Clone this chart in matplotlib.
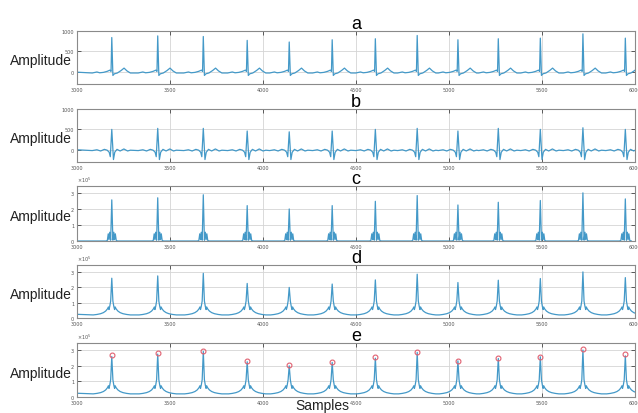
import numpy as np
import matplotlib
matplotlib.use("Agg")
import matplotlib.pyplot as plt

# ---------------- data ----------------
r_pos = [3187, 3434, 3679, 3915, 4141, 4372, 4604, 4829, 5048, 5265, 5491, 5720, 5948]

amp_a = [840, 880, 865, 770, 730, 785, 810, 890, 785, 810, 825, 930, 825]
amp_b = [500, 525, 525, 460, 440, 460, 500, 525, 460, 525, 500, 540, 500]
amp_c = [2.58, 2.71, 2.90, 2.22, 2.01, 2.22, 2.49, 2.85, 2.26, 2.43, 2.54, 3.02, 2.64]
amp_d = [2.59, 2.74, 2.91, 2.25, 1.99, 2.21, 2.48, 2.85, 2.31, 2.46, 2.57, 3.00, 2.63]
peak_e = [2.68, 2.78, 2.96, 2.27, 2.06, 2.25, 2.55, 2.89, 2.31, 2.46, 2.55, 3.06, 2.72]

# beat shapes around each R peak (offset in samples, value); NaN = R-peak amplitude
shape_a_dt = [-105, -95, -80, -65, -45, -25, -10, -4, 0, 6, 14, 30, 50, 66, 82, 100]
shape_a_v = [-30, -20, -5, -25, -15, 10, 40, 10, np.nan, -90, -50, -30, 30, 90, 20, -30]
shape_b_dt = [-105, -80, -60, -40, -25, -14, -8, 0, 9, 16, 28, 45, 65, 85, 100]
shape_b_v = [-20, 0, -30, 10, -10, -60, -170, np.nan, -240, -60, 10, -30, 20, -30, -10]
shape_c_dt = [-32, -24, -19, -15, -11, -6, 0, 6, 11, 15, 19, 24, 32]
shape_c_v = [0.0, 0.03, 0.45, 0.08, 0.55, 0.05, np.nan, 0.05, 0.55, 0.08, 0.45, 0.03, 0.0]
shape_d_dt = [-100, -80, -60, -45, -33, -24, -18, -15, -11, -6, 0, 6, 11, 15, 18, 24, 33, 45, 60, 80, 100]
shape_d_v = [0.2, 0.23, 0.28, 0.35, 0.45, 0.58, 0.72, 0.55, 0.75, 1.1, np.nan,
             1.1, 0.75, 0.55, 0.72, 0.58, 0.45, 0.35, 0.28, 0.23, 0.2]

start_vals = {"a": -10, "b": 0, "c": 0.0, "d": 0.24}
x_ticks = [3000, 3500, 4000, 4500, 5000, 5500, 6000]
titles = ["a", "b", "c", "d", "e"]


def trace(dt, vals, amps, start):
    xs, ys = [3000], [start]
    for p, a in zip(r_pos, amps):
        for d, v in zip(dt, vals):
            xs.append(p + d)
            ys.append(a if np.isnan(v) else v)
    return np.array(xs), np.array(ys)


line_col = "#4499c8"
fig = plt.figure(figsize=(6.38, 4.14), dpi=100)
W, H = 638, 414
boxes = [(32, 85), (110, 163), (187, 242), (266, 319), (344, 398)]
left, right = 77, 635

traces = [
    trace(shape_a_dt, shape_a_v, amp_a, start_vals["a"]),
    trace(shape_b_dt, shape_b_v, amp_b, start_vals["b"]),
    trace(shape_c_dt, shape_c_v, amp_c, start_vals["c"]),
    trace(shape_d_dt, shape_d_v, amp_d, start_vals["d"]),
    trace(shape_d_dt, shape_d_v, amp_d, start_vals["d"]),
]

for i, ((top, bot), (xs, ys)) in enumerate(zip(boxes, traces)):
    ax = fig.add_axes([left / W, 1 - bot / H, (right - left) / W, (bot - top) / H])
    if i >= 2:
        ys = ys * 1e5
    ax.plot(xs, ys, color=line_col, lw=0.9)
    if i == 4:
        ax.plot(r_pos, np.array(peak_e) * 1e5, "o", mfc="none", mec="#e06070",
                ms=3.5, mew=0.8)
    ax.set_xlim(3000, 6000)
    ax.set_xticks(x_ticks)
    ax.set_xticklabels([str(t) for t in x_ticks])
    if i < 2:
        ax.set_ylim(-300, 1000)
        ax.set_yticks([0, 500, 1000])
        ax.set_yticklabels(["0", "500", "1000"])
    else:
        ax.set_ylim(0, 3.45e5)
        ax.set_yticks([0, 1e5, 2e5, 3e5])
        ax.set_yticklabels(["0", "1", "2", "3"])
        ax.text(0.0, 1.03, r"$\times10^5$", transform=ax.transAxes, fontsize=3.5,
                color="#555555", ha="left", va="bottom")
    ax.grid(True, color="#d4d4d4", lw=0.6)
    ax.tick_params(direction="in", length=3, width=0.6, top=True, right=True,
                   labelsize=3.5, labelcolor="#555555", color="#444444", pad=2)
    for s in ax.spines.values():
        s.set_color("#8a8a8a")
        s.set_linewidth(0.8)
    ax.set_title(titles[i], fontsize=13, family="Liberation Sans", pad=2)
    ax.text(-0.009, 0.45, "Amplitude", transform=ax.transAxes, ha="right",
            va="center", fontsize=10, family="Liberation Sans", color="#222222")

fig.text(322 / W, 1 - 406 / H, "Samples", ha="center", va="center",
         fontsize=10, family="Liberation Sans", color="#222222")

fig.savefig("out.png", dpi=100)
